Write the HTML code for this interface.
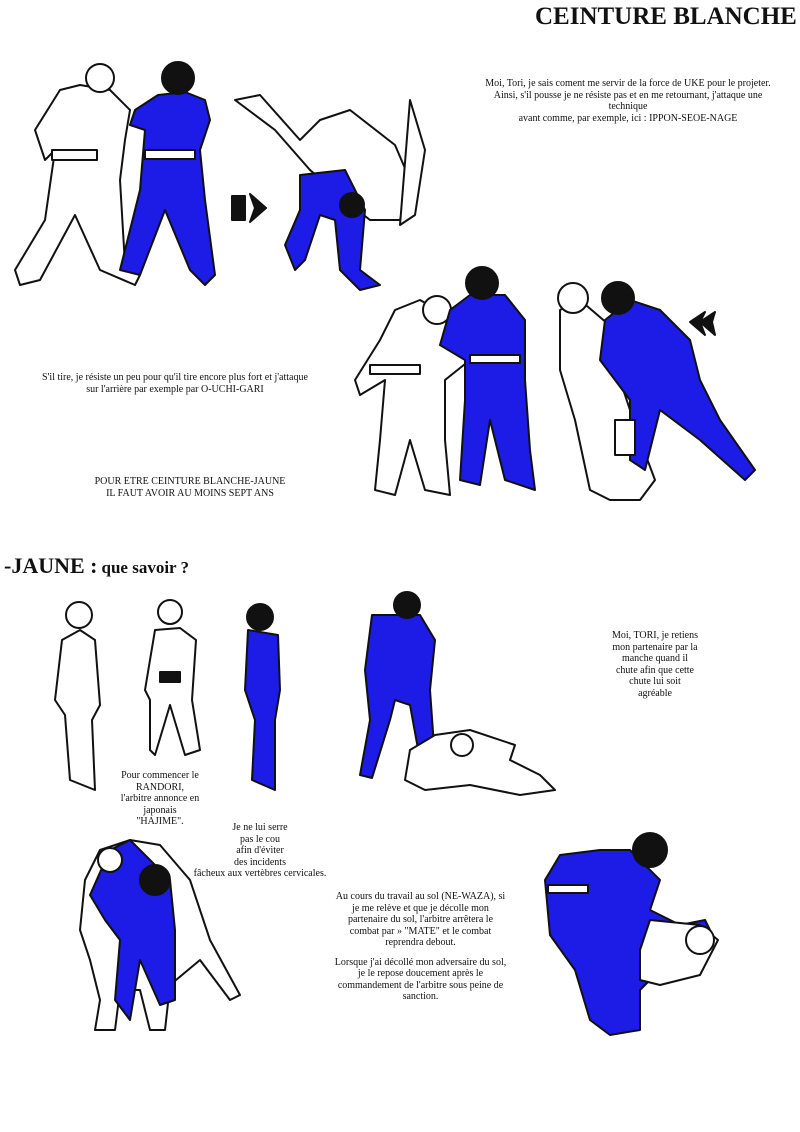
<!DOCTYPE html>
<html><head><meta charset="utf-8"><style>
body{margin:0;background:#fff;}
#p{position:relative;width:800px;height:1132px;overflow:hidden;background:#fff;font-family:"Liberation Serif",serif;color:#111;}
.t{position:absolute;text-align:center;font-size:10px;line-height:11.5px;}
svg{position:absolute;left:0;top:0;}
</style></head><body><div id="p">
<svg width="800" height="1132" viewBox="0 0 800 1132">
<g stroke="#111" stroke-width="2" stroke-linejoin="round">
<path d="M80 85 L60 90 L35 130 L45 160 L55 150 L45 220 L15 270 L20 285 L40 280 L75 215 L100 270 L135 285 L140 275 L125 265 L120 180 L125 140 L130 110 L110 90 Z" fill="#fff"/>
<circle cx="100" cy="78" r="14" fill="#fff"/>
<rect x="52" y="150" width="45" height="10" fill="#fff"/>
<path d="M158 95 L135 110 L130 125 L145 130 L140 190 L120 270 L140 275 L165 210 L190 270 L205 285 L215 275 L205 200 L200 150 L210 120 L205 100 L185 92 Z" fill="#1c1ce6"/>
<circle cx="178" cy="78" r="16" fill="#111"/>
<rect x="145" y="150" width="50" height="9" fill="#fff"/>
<path d="M232 196 L245 196 L245 220 L232 220 Z" fill="#111"/>
<path d="M250 194 L266 208 L250 222 L255 208 Z" fill="#111"/>
<path d="M235 100 L260 95 L300 140 L320 120 L350 110 L395 145 L410 180 L400 220 L370 220 L345 200 L310 170 L275 130 Z" fill="#fff"/>
<path d="M410 100 L425 150 L415 215 L400 225 Z" fill="#fff"/>
<path d="M300 175 L345 170 L365 210 L360 270 L380 285 L360 290 L340 270 L335 220 L320 215 L305 260 L295 270 L285 245 L300 210 Z" fill="#1c1ce6"/>
<circle cx="352" cy="205" r="12" fill="#111"/>
<path d="M420 300 L395 310 L380 340 L355 380 L360 395 L385 380 L380 440 L375 490 L395 495 L410 440 L425 490 L450 495 L445 440 L445 380 L470 360 L455 320 Z" fill="#fff"/>
<circle cx="437" cy="310" r="14" fill="#fff"/>
<rect x="370" y="365" width="50" height="9" fill="#fff"/>
<path d="M470 295 L450 310 L440 345 L465 360 L465 400 L460 480 L480 485 L490 420 L505 480 L535 490 L530 450 L525 380 L525 320 L505 295 Z" fill="#1c1ce6"/>
<circle cx="482" cy="283" r="16" fill="#111"/>
<rect x="470" y="355" width="50" height="8" fill="#fff"/>
<path d="M580 300 L560 310 L560 370 L575 420 L590 490 L610 500 L640 500 L655 480 L640 440 L620 380 L615 330 Z" fill="#fff"/>
<circle cx="573" cy="298" r="15" fill="#fff"/>
<path d="M630 300 L605 320 L600 360 L630 400 L630 460 L645 470 L660 410 L700 440 L745 480 L755 470 L720 420 L700 380 L690 340 L660 310 Z" fill="#1c1ce6"/>
<circle cx="618" cy="298" r="16" fill="#111"/>
<rect x="615" y="420" width="20" height="35" fill="#fff"/>
<path d="M690 322 L705 312 L700 322 L705 335 Z M700 322 L715 312 L712 322 L715 335 Z" fill="#111"/>
<path d="M62 640 L55 700 L65 715 L70 780 L95 790 L92 720 L100 705 L95 640 L80 630 Z" fill="#fff"/>
<circle cx="79" cy="615" r="13" fill="#fff"/>
<path d="M155 630 L145 690 L150 700 L150 750 L155 755 L170 705 L185 755 L200 750 L192 700 L196 640 L180 628 Z" fill="#fff"/>
<circle cx="170" cy="612" r="12" fill="#fff"/>
<rect x="160" y="672" width="20" height="10" fill="#111"/>
<path d="M248 630 L245 690 L255 720 L252 780 L275 790 L275 720 L280 690 L278 635 Z" fill="#1c1ce6"/>
<circle cx="260" cy="617" r="13" fill="#111"/>
<path d="M372 615 L365 670 L370 720 L360 775 L372 778 L390 720 L395 700 L410 705 L420 760 L435 760 L430 690 L435 640 L420 615 Z" fill="#1c1ce6"/>
<circle cx="407" cy="605" r="13" fill="#111"/>
<path d="M410 750 L435 735 L470 730 L515 745 L510 760 L540 775 L555 790 L520 795 L470 785 L425 790 L405 780 Z" fill="#fff"/>
<circle cx="462" cy="745" r="11" fill="#fff"/>
<path d="M100 850 L85 880 L80 930 L90 960 L100 1000 L95 1030 L115 1030 L120 990 L140 990 L150 1030 L165 1030 L170 985 L200 960 L230 1000 L240 995 L210 940 L190 880 L160 845 L130 840 Z" fill="#fff"/>
<path d="M110 850 L90 895 L105 920 L120 940 L115 1000 L130 1020 L140 960 L160 1005 L175 1000 L175 930 L170 880 L150 860 L130 840 Z" fill="#1c1ce6"/>
<circle cx="155" cy="880" r="15" fill="#111"/>
<circle cx="110" cy="860" r="12" fill="#fff"/>
<path d="M560 855 L545 880 L550 935 L575 970 L590 1020 L610 1035 L640 1030 L640 990 L655 975 L700 960 L715 940 L705 920 L680 925 L650 910 L660 880 L630 850 L600 850 Z" fill="#1c1ce6"/>
<circle cx="650" cy="850" r="17" fill="#111"/>
<path d="M650 920 L700 925 L718 940 L700 975 L660 985 L640 980 L640 950 Z" fill="#fff"/>
<circle cx="700" cy="940" r="14" fill="#fff"/>
<rect x="548" y="885" width="40" height="8" fill="#fff"/>
</g>
</svg>
<div style="position:absolute;left:535px;top:3px;font-size:25px;font-weight:bold;white-space:nowrap;">CEINTURE BLANCHE</div>
<div class="t" style="left:478px;top:78px;width:300px;">Moi, Tori, je sais coment me servir de la force de UKE pour le projeter.<br>Ainsi, s'il pousse je ne résiste pas et en me retournant, j'attaque une technique<br>avant comme, par exemple, ici : IPPON-SEOE-NAGE</div>
<div class="t" style="left:15px;top:372px;width:320px;">S'il tire, je résiste un peu pour qu'il tire encore plus fort et j'attaque<br>sur l'arrière par exemple par O-UCHI-GARI</div>
<div class="t" style="left:60px;top:476px;width:260px;">POUR ETRE CEINTURE BLANCHE-JAUNE<br>IL FAUT AVOIR AU MOINS SEPT ANS</div>
<div style="position:absolute;left:4px;top:553px;font-weight:bold;white-space:nowrap;"><span style="font-size:22px;">-JAUNE :</span> <span style="font-size:17px;">que savoir ?</span></div>
<div class="t" style="left:612px;top:630px;width:86px;">Moi, TORI, je retiens mon partenaire par la manche quand il chute afin que cette chute lui soit agréable</div>
<div class="t" style="left:120px;top:770px;width:80px;">Pour commencer le RANDORI, l'arbitre annonce en japonais "HAJIME".</div>
<div class="t" style="left:180px;top:822px;width:160px;">Je ne lui serre<br>pas le cou<br>afin d'éviter<br>des incidents<br>fâcheux aux vertèbres cervicales.</div>
<div class="t" style="left:333px;top:891px;width:175px;">Au cours du travail au sol (NE-WAZA), si je me relève et que je décolle mon partenaire du sol, l'arbitre arrêtera le combat par » "MATE" et le combat reprendra debout.<br><span style="display:block;height:8px"></span>Lorsque j'ai décollé mon adversaire du sol, je le repose doucement après le commandement de l'arbitre sous peine de sanction.</div>
</div></body></html>
